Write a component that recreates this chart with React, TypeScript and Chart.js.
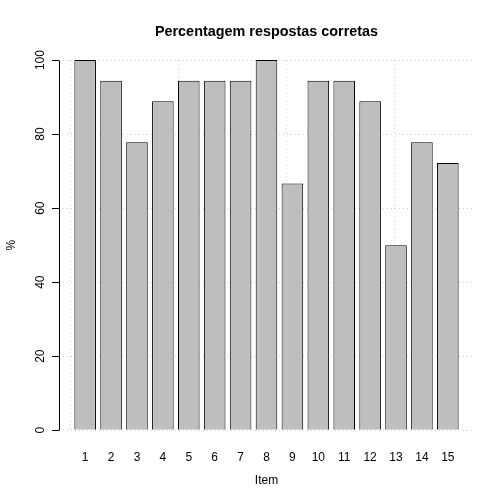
import { useEffect, useRef } from "react";
import { Chart, registerables } from "chart.js";

Chart.register(...registerables);

// ---- data ----
const categories = ["1", "2", "3", "4", "5", "6", "7", "8", "9", "10", "11", "12", "13", "14", "15"];
const percentCorrect = [100, 94.44, 77.78, 88.89, 94.44, 94.44, 94.44, 100, 66.67, 94.44, 94.44, 88.89, 50, 77.78, 72.22];
const yTickValues = [0, 20, 40, 60, 80, 100];
const xGridValues = [0, 5, 10, 15];

const titleText = "Percentagem respostas corretas";
const xTitle = "Item";
const yTitle = "%";

// R barplot layout rule: width 1, space 0.2
const BAR_W = 1;
const BAR_SPACE = 0.2;
const barCenters = categories.map((_, i) => BAR_SPACE + BAR_W / 2 + i * (BAR_W + BAR_SPACE));
const xLo = BAR_SPACE;
const xHi = categories.length * (BAR_W + BAR_SPACE);
const xExt = (xHi - xLo) * 0.04;
const yExt = (100 - 0) * 0.04;

const FONT = "'Liberation Sans', Arial, Helvetica, sans-serif";

const rExtras = {
  id: "rExtras",
  beforeDatasetsDraw(chart: any) {
    const { ctx, scales } = chart;
    const x = scales.x;
    const y = scales.y;
    const top = y.getPixelForValue(yTickValues[yTickValues.length - 1]);
    const bottom = y.getPixelForValue(yTickValues[0]);
    ctx.save();
    ctx.strokeStyle = "#d3d3d3";
    ctx.lineWidth = 1;
    ctx.setLineDash([1, 3]);
    for (const v of xGridValues) {
      const px = Math.round(x.getPixelForValue(v)) + 0.5;
      ctx.beginPath();
      ctx.moveTo(px, top);
      ctx.lineTo(px, bottom);
      ctx.stroke();
    }
    ctx.restore();
  },
  afterDraw(chart: any) {
    const { ctx, scales } = chart;
    const y = scales.y;
    const top = y.getPixelForValue(yTickValues[yTickValues.length - 1]);
    const bottom = y.getPixelForValue(yTickValues[0]);
    const px = Math.round(y.right) + 0.5;
    ctx.save();
    ctx.strokeStyle = "#000";
    ctx.lineWidth = 1;
    ctx.beginPath();
    ctx.moveTo(px, Math.round(top) + 0.5);
    ctx.lineTo(px, Math.round(bottom) + 0.5);
    ctx.stroke();
    ctx.restore();
  },
};

export default function App() {
  const ref = useRef<HTMLCanvasElement | null>(null);

  useEffect(() => {
    if (!ref.current) return;
    const chart = new Chart(ref.current, {
      type: "bar",
      data: {
        datasets: [
          {
            data: percentCorrect.map((v, i) => ({ x: barCenters[i], y: v })),
            backgroundColor: "#bebebe",
            borderColor: "#000",
            borderWidth: 1,
            barPercentage: BAR_W / (BAR_W + BAR_SPACE),
            categoryPercentage: 1,
          },
        ],
      },
      options: {
        responsive: false,
        animation: false,
        layout: { padding: { top: 0, right: 30, left: 0, bottom: 0 } },
        plugins: {
          legend: { display: false },
          tooltip: { enabled: false },
          title: {
            display: true,
            text: titleText,
            fullSize: false,
            color: "#000",
            font: { family: FONT, size: 14.4, weight: "bold" },
            padding: { top: 23, bottom: 5 },
          },
        },
        scales: {
          x: {
            type: "linear",
            offset: false,
            min: xLo - xExt,
            max: xHi + xExt,
            afterBuildTicks: (s: any) => {
              s.ticks = barCenters.map((v) => ({ value: v }));
            },
            afterFit: (s: any) => {
              s.height = 59;
            },
            ticks: {
              autoSkip: false,
              maxRotation: 0,
              minRotation: 0,
              padding: 5,
              color: "#000",
              font: { family: FONT, size: 12 },
              callback: (_v: any, i: number) => categories[i],
            },
            grid: { display: false, drawTicks: false, offset: false },
            border: { display: false },
            title: {
              display: true,
              text: xTitle,
              color: "#000",
              font: { family: FONT, size: 12 },
              padding: { top: 0, bottom: 16 },
            },
          },
          y: {
            type: "linear",
            min: 0 - yExt,
            max: 100 + yExt,
            afterBuildTicks: (s: any) => {
              s.ticks = yTickValues.map((v) => ({ value: v }));
            },
            afterFit: (s: any) => {
              s.width = 59;
            },
            ticks: {
              minRotation: 90,
              maxRotation: 90,
              crossAlign: "center",
              padding: 1,
              color: "#000",
              font: { family: FONT, size: 12 },
            },
            grid: {
              color: "#d3d3d3",
              lineWidth: 1,
              tickLength: 7,
              tickColor: "#000",
              tickWidth: 1,
              tickBorderDash: [],
            },
            border: { display: false, dash: [1, 3] },
            title: {
              display: true,
              text: yTitle,
              color: "#000",
              font: { family: FONT, size: 12 },
              padding: { top: 4, bottom: 0 },
            },
          },
        },
      },
      plugins: [rExtras],
    } as any);
    return () => chart.destroy();
  }, []);

  return (
    <div style={{ position: "absolute", left: 0, top: 0, width: 504, height: 504, background: "#fff" }}>
      <canvas ref={ref} width={504} height={504} style={{ display: "block", width: 504, height: 504 }} />
    </div>
  );
}
